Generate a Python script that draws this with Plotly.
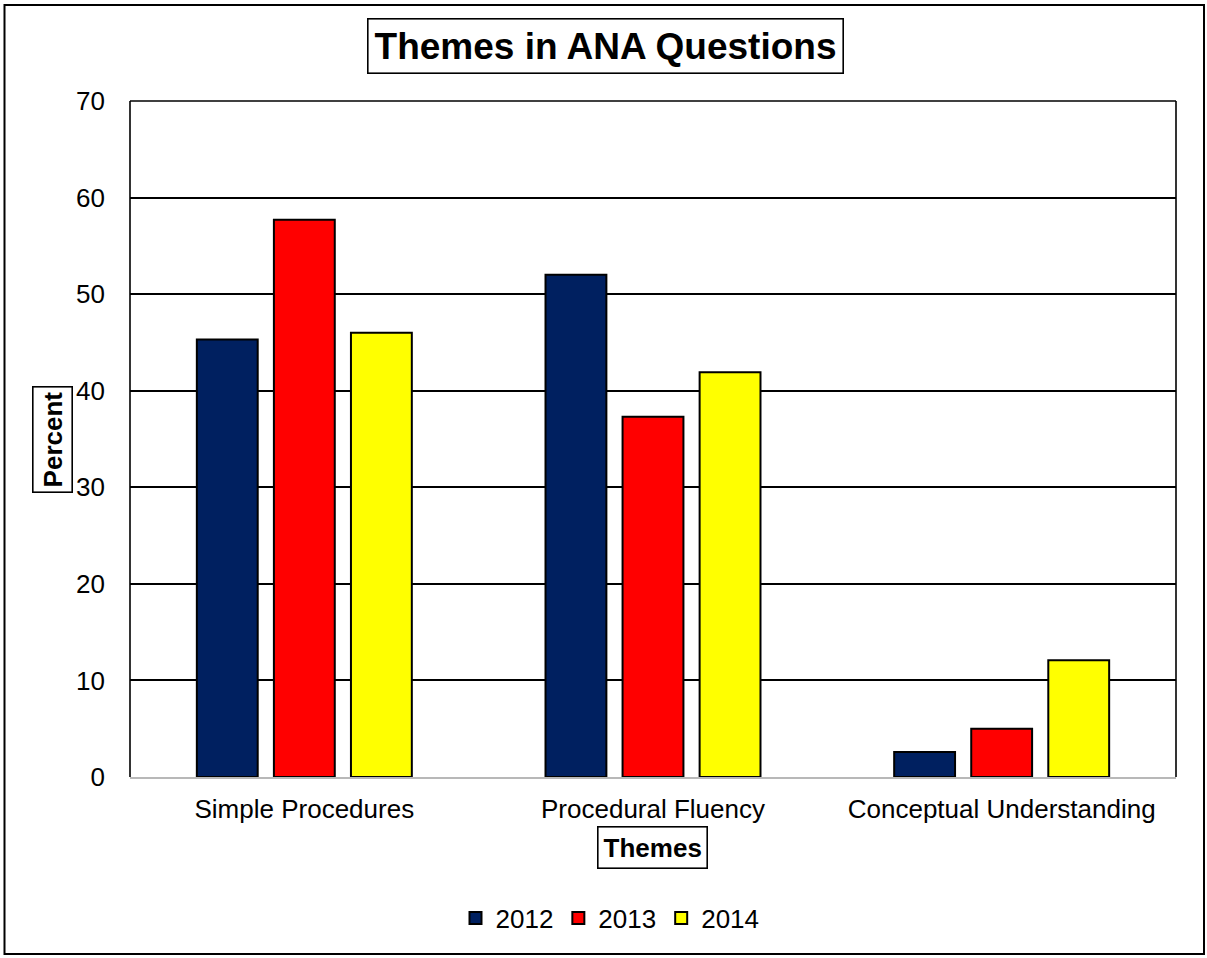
import plotly.graph_objects as go

categories = ["Simple Procedures", "Procedural Fluency", "Conceptual Understanding"]
years = ["2012", "2013", "2014"]
values_2012 = [45.3, 52.0, 2.6]
values_2013 = [57.7, 37.3, 5.0]
values_2014 = [46.0, 41.9, 12.1]
colors = ["#002060", "#FF0000", "#FFFF00"]
y_ticks = [0, 10, 20, 30, 40, 50, 60, 70]

FONT = "Arial, Liberation Sans, sans-serif"

fig = go.Figure()
for name, vals, col in zip(years, [values_2012, values_2013, values_2014], colors):
    fig.add_trace(go.Bar(
        x=categories, y=vals, name=name,
        marker=dict(color=col, line=dict(color="black", width=2)),
    ))

L, R, T, B = 130, 31, 101, 181
W, H = 1207, 958
pw, ph = W - L - R, H - T - B

def px(x):
    return (x - L) / pw

def py(y):
    return (H - B - y) / ph

fig.update_layout(
    width=W, height=H,
    margin=dict(l=L, r=R, t=T, b=B),
    paper_bgcolor="white", plot_bgcolor="white",
    barmode="group", bargap=0.337, bargroupgap=0.21,
    font=dict(family=FONT, size=26, color="black"),
    showlegend=True,
    legend=dict(orientation="h", x=px(610), y=py(918), xanchor="center", yanchor="middle",
                font=dict(size=26), itemwidth=30, tracegroupgap=0),
    xaxis=dict(showgrid=False, showline=True, linecolor="#b8b8b8", linewidth=2,
               ticks="", tickfont=dict(size=26), ticklabelstandoff=8, fixedrange=True),
    yaxis=dict(range=[0, 70], tickvals=y_ticks, showgrid=True, gridcolor="black", gridwidth=1.6,
               zeroline=False, showline=False, ticks="", tickfont=dict(size=26),
               ticklabelstandoff=24, fixedrange=True),
)

# plot area border (left, top, right)
for x0, x1, y0, y1 in [(0, 0, 0, 1), (0, 1, 1, 1), (1, 1, 0, 1)]:
    fig.add_shape(type="line", xref="paper", yref="paper", x0=x0, x1=x1, y0=y0, y1=y1,
                  line=dict(color="black", width=1.6))
# outer chart border
fig.add_shape(type="rect", xref="paper", yref="paper", x0=px(4.5), x1=px(1204), y0=py(954), y1=py(5),
              line=dict(color="black", width=2))

# title
fig.add_annotation(text="<b>Themes in ANA Questions</b>", xref="paper", yref="paper",
                   x=px(605), y=py(46), xanchor="center", yanchor="middle", showarrow=False,
                   font=dict(size=37, family=FONT), bordercolor="black", borderwidth=1.6, borderpad=6,
                   bgcolor="white")
# y-axis title
fig.add_annotation(text="<b>Percent</b>", xref="paper", yref="paper",
                   x=px(52), y=py(440), xanchor="center", yanchor="middle", showarrow=False,
                   textangle=-90, font=dict(size=26, family=FONT), bordercolor="black",
                   borderwidth=1.6, borderpad=4, bgcolor="white")
# x-axis title
fig.add_annotation(text="<b>Themes</b>", xref="paper", yref="paper",
                   x=px(652.5), y=py(847), xanchor="center", yanchor="middle", showarrow=False,
                   font=dict(size=26, family=FONT), bordercolor="black",
                   borderwidth=1.6, borderpad=5, bgcolor="white")

fig.write_html("out.html")
